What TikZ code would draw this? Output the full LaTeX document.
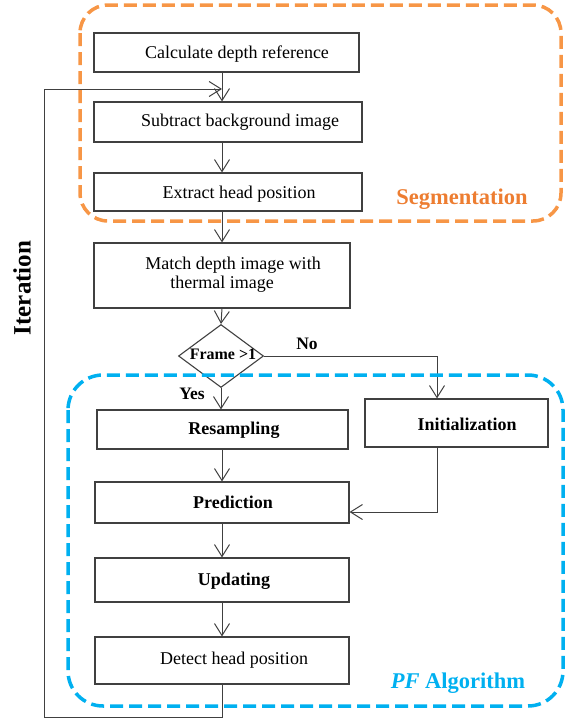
\documentclass[tikz,border=0pt]{standalone}
\usepackage{fontspec}
\setmainfont{Liberation Serif}
\usetikzlibrary{arrows.meta,shapes.geometric}
\definecolor{boxline}{HTML}{404040}
\definecolor{segorange}{HTML}{F79646}
\definecolor{segtext}{HTML}{ED7D31}
\definecolor{pfblue}{HTML}{00B0F0}
\tikzset{
  stepbox/.style={draw=boxline, line width=1.1pt, inner sep=0pt},
  txt/.style={inner sep=0pt, yshift=-1.5pt, font=\fontsize{18}{21}\selectfont},
  btxt/.style={inner sep=0pt, yshift=-1.5pt, font=\fontsize{18}{21}\selectfont\bfseries},
  flow/.style={draw=boxline, line width=1pt, -{Straight Barb[length=12pt,width=15pt]}},
  group/.style={line width=3.5pt, rounded corners=#1, dash pattern=on 13pt off 6pt},
}
\begin{document}
\begin{tikzpicture}[x=1pt,y=-1pt]
\useasboundingbox (0,0) rectangle (565,720);

% boxes
\node[stepbox, minimum width=265pt, minimum height=39pt] (calc) at (226.5,52.5) {};
\node[stepbox, minimum width=268pt, minimum height=40pt] (sub) at (228,122) {};
\node[stepbox, minimum width=268pt, minimum height=38pt] (ext) at (228,192) {};
\node[stepbox, minimum width=256pt, minimum height=65pt] (match) at (222,275.5) {};
\node[draw=boxline, line width=1.1pt, shape=diamond, minimum width=85pt, minimum height=63pt, inner sep=0pt] (dia) at (221,356) {};
\node[stepbox, minimum width=251pt, minimum height=39pt] (res) at (222.5,429.5) {};
\node[stepbox, minimum width=183pt, minimum height=48pt] (init) at (456.5,423) {};
\node[stepbox, minimum width=254pt, minimum height=41pt] (pred) at (222,502.5) {};
\node[stepbox, minimum width=254pt, minimum height=44pt] (upd) at (222,580) {};
\node[stepbox, minimum width=254pt, minimum height=47pt] (det) at (222,660.5) {};

% texts
\node[txt] (tcalc) at (237,53) {Calculate depth reference};
\node[txt] (tsub) at (240,121) {Subtract background image};
\node[txt] (text) at (239,193) {Extract head position};
\node[txt] (tmatch1) at (233,264) {Match depth image with};
\node[txt] (tmatch2) at (222,283) {thermal image};
\node[inner sep=0pt, yshift=-1pt, font=\fontsize{16}{19}\selectfont\bfseries] (tdia) at (223,353) {Frame >1};
\node[btxt] (tres) at (234,429) {Resampling};
\node[btxt] (tinit) at (467,423) {Initialization};
\node[btxt] (tpred) at (233,501) {Prediction};
\node[btxt] (tupd) at (234,580) {Updating};
\node[txt] (tdet) at (234,659) {Detect head position};
\node[inner sep=0pt, yshift=-1pt, font=\fontsize{17.5}{20}\selectfont\bfseries] (tno) at (307,343) {No};
\node[inner sep=0pt, yshift=-1pt, font=\fontsize{17.5}{20}\selectfont\bfseries] (tyes) at (192,393) {Yes};
\node[inner sep=0pt, font=\fontsize{25}{28}\selectfont\bfseries, rotate=90] (titer) at (22,288) {Iteration};

% helper coordinates
\coordinate (cx) at (222,0);
\coordinate (noturn) at (437,356);
\coordinate (predin) at (437,512);
\coordinate (l1) at (222,717);
\coordinate (l2) at (44,717);
\coordinate (l3) at (44,89);
\coordinate (l4) at (222,89);

% connectors
\draw[flow] (calc.south -| cx) -- (sub.north -| cx);
\draw[flow] (sub.south -| cx) -- (ext.north -| cx);
\draw[flow] (ext.south -| cx) -- (match.north -| cx);
\draw[flow] (match.south) -- (dia.north);
\draw[flow] (dia.south) -- (res.north -| dia.south);
\draw[flow] (res.south -| cx) -- (pred.north -| cx);
\draw[flow] (pred.south) -- (upd.north);
\draw[flow] (upd.south) -- (det.north);
\draw[flow] (dia.east) -- (noturn) -- (init.north -| noturn);
\draw[flow] (init.south -| noturn) -- (predin) -- (pred.east |- predin);
\draw[flow] (det.south) -- (l1) -- (l2) -- (l3) -- (l4);

% groups
\draw[group=28pt, draw=segorange] (80,5) rectangle (561,221);
\node[inner sep=0pt, yshift=-1pt, font=\fontsize{22.5}{26}\selectfont\bfseries, text=segtext] (tseg) at (462,198) {Segmentation};
\draw[group=35pt, draw=pfblue] (68,375) rectangle (563,706);
\node[inner sep=0pt, yshift=-1pt, font=\fontsize{22.5}{26}\selectfont\bfseries, text=pfblue] (tpf) at (458,682) {\textit{PF} Algorithm};
\end{tikzpicture}
\end{document}
